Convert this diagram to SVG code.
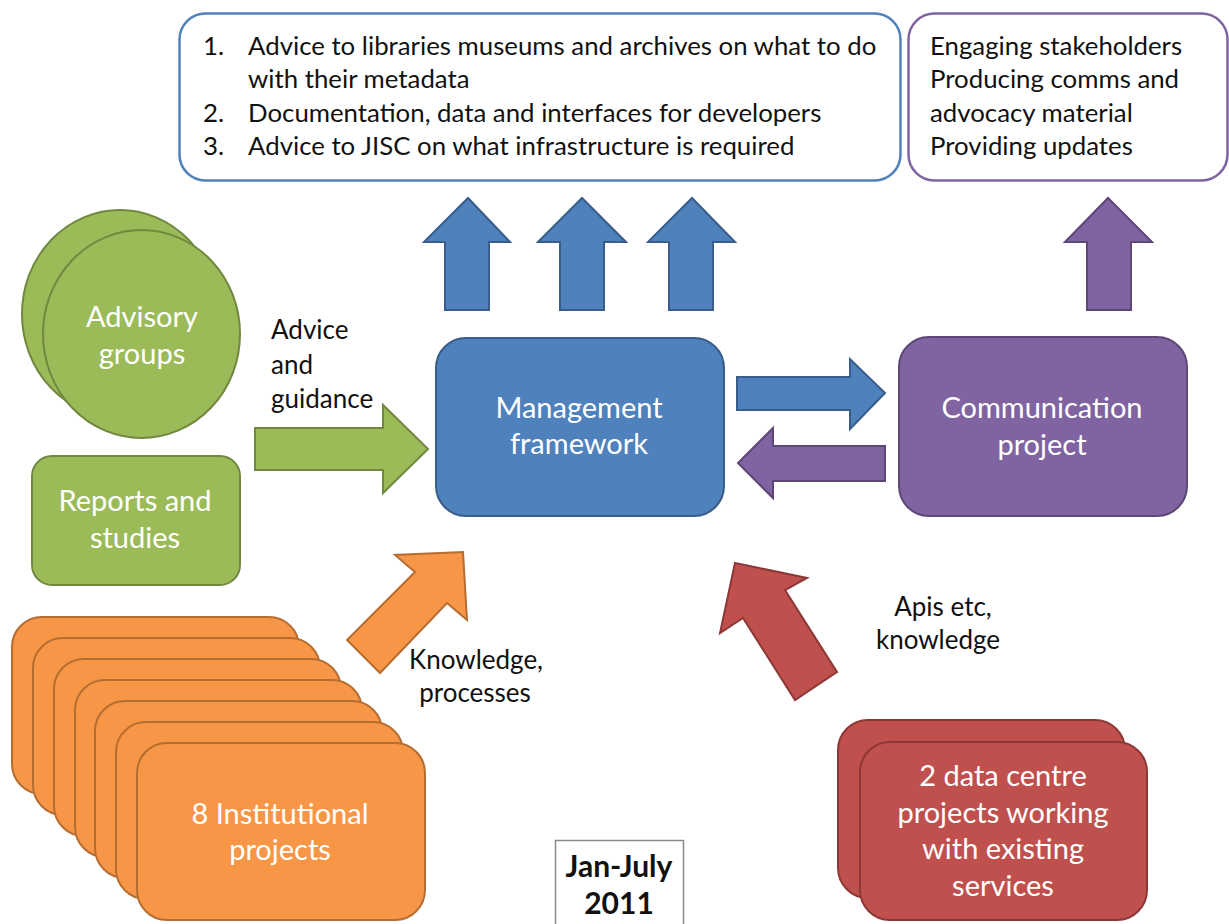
<svg xmlns="http://www.w3.org/2000/svg" width="1229" height="924" viewBox="0 0 1229 924">
  <defs>
    <style>
      .list { font-family: Lato, "Liberation Sans", sans-serif; font-size: 25.8px; fill: #111; }
      .node-text { font-family: Lato, "Liberation Sans", sans-serif; font-size: 29px; fill: #ffffff; text-anchor: middle; }
      .label { font-family: Lato, "Liberation Sans", sans-serif; font-size: 26px; fill: #111; }
      .label-c { text-anchor: middle; }
      .period { font-family: Lato, "Liberation Sans", sans-serif; font-size: 30px; font-weight: bold; fill: #111; text-anchor: middle; }
      .blue { fill: #4F81BD; stroke: #385D8A; stroke-width: 2; }
      .green { fill: #9BBB59; stroke: #71893F; stroke-width: 2; }
      .purple { fill: #8064A2; stroke: #5C4776; stroke-width: 2; }
      .orange { fill: #F79646; stroke: #B66D31; stroke-width: 2; }
      .red { fill: #C0504D; stroke: #8C3836; stroke-width: 2; }
    </style>
  </defs>
  <rect width="1229" height="924" fill="#ffffff"/>

  <!-- Output box: deliverables -->
  <g id="deliverables">
    <rect x="179.5" y="13.5" width="721" height="167" rx="26" fill="#ffffff" stroke="#4F81BD" stroke-width="2.5"/>
    <text class="list" x="203" y="55">1.</text>
    <text class="list" x="248" y="55">Advice to libraries museums and archives on what to do</text>
    <text class="list" x="248" y="88">with their metadata</text>
    <text class="list" x="203" y="122">2.</text>
    <text class="list" x="248" y="122">Documentation, data and interfaces for developers</text>
    <text class="list" x="203" y="155">3.</text>
    <text class="list" x="248" y="155">Advice to JISC on what infrastructure is required</text>
  </g>

  <!-- Output box: communications -->
  <g id="comms-outputs">
    <rect x="908.5" y="13.5" width="319" height="167" rx="26" fill="#ffffff" stroke="#8064A2" stroke-width="2.5"/>
    <text class="list" x="930" y="55">Engaging stakeholders</text>
    <text class="list" x="930" y="88">Producing comms and</text>
    <text class="list" x="930" y="122">advocacy material</text>
    <text class="list" x="930" y="155">Providing updates</text>
  </g>

  <!-- Advisory groups: two overlapping circles -->
  <g id="advisory-groups">
    <ellipse class="green" cx="120" cy="314" rx="98" ry="104"/>
    <ellipse class="green" cx="141.5" cy="334" rx="98.5" ry="104"/>
    <text class="node-text" x="142" y="327">Advisory</text>
    <text class="node-text" x="142" y="364">groups</text>
  </g>

  <g id="reports-studies">
    <rect class="green" x="32" y="456" width="208" height="129" rx="20"/>
    <text class="node-text" x="135" y="511">Reports and</text>
    <text class="node-text" x="135" y="548">studies</text>
  </g>

  <g id="management-framework">
    <rect class="blue" x="436" y="338" width="288" height="178" rx="30"/>
    <text class="node-text" x="579" y="418">Management</text>
    <text class="node-text" x="579" y="454">framework</text>
  </g>

  <g id="communication-project">
    <rect class="purple" x="899" y="337" width="288" height="179" rx="30"/>
    <text class="node-text" x="1042" y="418">Communication</text>
    <text class="node-text" x="1042" y="455">project</text>
  </g>

  <!-- Stack of seven cards for the institutional projects -->
  <g id="institutional-projects">
    <rect class="orange" x="12" y="617" width="287" height="177" rx="30"/>
    <rect class="orange" x="33" y="638" width="287" height="177" rx="30"/>
    <rect class="orange" x="54" y="659" width="287" height="177" rx="30"/>
    <rect class="orange" x="75" y="680" width="287" height="177" rx="30"/>
    <rect class="orange" x="95" y="701" width="287" height="177" rx="30"/>
    <rect class="orange" x="116" y="722" width="287" height="177" rx="30"/>
    <rect class="orange" x="137" y="743" width="288" height="177" rx="30"/>
    <text class="node-text" x="280" y="824">8 Institutional</text>
    <text class="node-text" x="280" y="860">projects</text>
  </g>

  <g id="data-centre-projects">
    <rect class="red" x="838" y="720" width="287" height="178" rx="30"/>
    <rect class="red" x="860" y="742" width="287" height="178" rx="30"/>
    <text class="node-text" x="1003" y="786">2 data centre</text>
    <text class="node-text" x="1003" y="823">projects working</text>
    <text class="node-text" x="1003" y="859">with existing</text>
    <text class="node-text" x="1003" y="896">services</text>
  </g>

  <g id="period">
    <rect x="555.5" y="840.5" width="128" height="100" fill="#ffffff" stroke="#8a8a8a" stroke-width="1.5"/>
    <text class="period" x="619" y="877">Jan-July</text>
    <text class="period" x="619" y="914">2011</text>
  </g>

  <!-- Block arrows between nodes -->
  <g id="connectors">
    <!-- framework to deliverables -->
    <polygon class="blue" points="468,198 510,242 489,242 489,310 445,310 445,242 424,242"/>
    <polygon class="blue" points="582,198 626,242 604,242 604,310 560,310 560,242 538,242"/>
    <polygon class="blue" points="692,198 735,242 713,242 713,310 669,310 669,242 648,242"/>
    <!-- communication project to its outputs -->
    <polygon class="purple" points="1108,198 1152,242 1131,242 1131,310 1087,310 1087,242 1065,242"/>
    <!-- framework to communication project -->
    <polygon class="blue" points="737,377 850,377 850,359 885,393 850,429 850,410 737,410"/>
    <!-- communication project back to framework -->
    <polygon class="purple" points="885,446 773,446 773,428 738,463 773,498 773,481 885,481"/>
    <!-- advice into framework -->
    <polygon class="green" points="255,428 383,428 383,405 428,449 383,493 383,470 255,470"/>
    <!-- institutional projects into framework -->
    <polygon class="orange" points="463,552 467,620 447,603 380,673 347,640 415,572 395,555"/>
    <!-- data centre projects into framework -->
    <polygon class="red" points="735,563 807,578 785,590 837,672 795,700 743,618 720,633"/>

    <text class="label" x="271" y="339">Advice</text>
    <text class="label" x="271" y="374">and</text>
    <text class="label" x="271" y="408">guidance</text>
    <text class="label label-c" x="476" y="669">Knowledge,</text>
    <text class="label label-c" x="475" y="702">processes</text>
    <text class="label label-c" x="943" y="616">Apis etc,</text>
    <text class="label label-c" x="938" y="649">knowledge</text>
  </g>
</svg>
